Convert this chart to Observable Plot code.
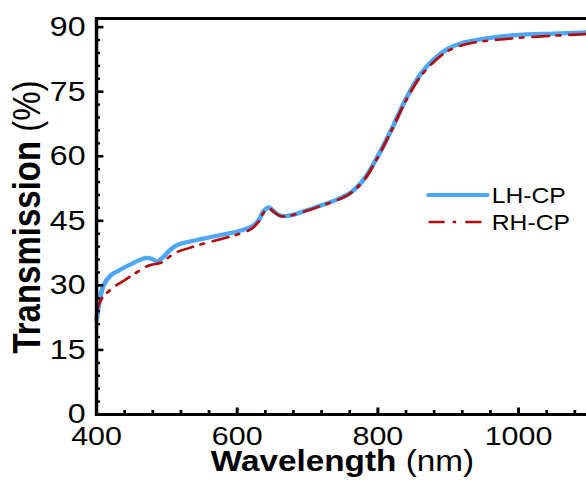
<!DOCTYPE html>
<html><head><meta charset="utf-8">
<script src="https://cdn.jsdelivr.net/npm/d3@7"></script>
<script src="https://cdn.jsdelivr.net/npm/@observablehq/plot@0.6"></script>
<style>
body{margin:0;background:#fff;}
#chart svg{display:block;}
</style>
</head><body><div id="chart"></div>
<script>
const wavelength = [400,405,410,420,430,440,450,460,470,478,486,495,505,515,530,550,580,600,620,630,638,645,652,660,670,680,700,720,740,760,780,800,820,840,860,880,900,920,940,960,980,1000,1050,1100];
const lhcp = [22,27,30,32.3,33.3,34.2,35.0,35.8,36.4,36.2,35.6,36.6,38.3,39.4,40.1,40.8,41.8,42.5,43.6,45,47.3,48.1,47.2,46.3,46.1,46.4,47.5,48.6,49.8,51.4,54.6,60,66.4,73.3,78.9,82.6,85,86.3,87,87.5,87.9,88.2,88.5,88.8];
const rhcp = [24,26.2,27.5,29.0,30.2,31.2,32.3,33.3,34.3,34.8,35.0,35.5,36.8,37.8,38.6,39.6,40.9,41.8,43.1,44.7,47.0,47.9,47.1,46.2,46.0,46.4,47.4,48.5,49.7,51.3,54.4,59.8,66.2,73,78.4,82.0,84.5,85.8,86.5,86.9,87.2,87.5,88.0,88.4];
const seriesNames = ["LH-CP", "RH-CP"];
const seriesColors = ["#4da6f7", "#b30c0c"];
const xMajorTicks = [400, 600, 800, 1000];
const xMinorTicks = [440, 480, 520, 560, 640, 680, 720, 760, 840, 880, 920, 960, 1040, 1080];
const yMajorTicks = [0, 15, 30, 45, 60, 75, 90];
const yMinorTicks = [3, 6, 9, 12, 18, 21, 24, 27, 33, 36, 39, 42, 48, 51, 54, 57, 63, 66, 69, 72, 78, 81, 84, 87];
const xDomain = [400, 1100];
const yDomain = [0, 92];

const lhRows = wavelength.map((w, i) => ({w, t: lhcp[i]}));
const rhRows = wavelength.map((w, i) => ({w, t: rhcp[i]}));

const W = 510, H = 484;
const font = "'Liberation Sans', Arial, sans-serif";
const plain = d => String(d);

const chart = Plot.plot({
  width: W, height: H,
  marginLeft: 83.5, marginRight: -2, marginTop: 18, marginBottom: 70,
  style: {fontFamily: font, color: "#000", background: "#fff", overflow: "visible"},
  x: {domain: xDomain},
  y: {domain: yDomain},
  marks: [
    Plot.line(lhRows, {x: "w", y: "t", stroke: seriesColors[0], strokeWidth: 4.2, curve: "catmull-rom"}),
    Plot.line(rhRows, {x: "w", y: "t", stroke: seriesColors[1], strokeWidth: 2.6, strokeDasharray: "14,7,3,8", curve: "catmull-rom"}),
    Plot.axisX({ticks: xMinorTicks, tickSize: -4, strokeWidth: 2.4, tickFormat: () => "", label: null}),
    Plot.axisX({ticks: xMajorTicks, tickSize: -6.5, strokeWidth: 2.6, tickFormat: () => "", label: null}),
    Plot.axisX({ticks: xMajorTicks, tickSize: 0, tickPadding: 12, fontSize: 26.5, tickFormat: plain, label: null}),
    Plot.axisY({ticks: yMinorTicks, tickSize: -3.5, strokeWidth: 2.4, tickFormat: () => "", label: null}),
    Plot.axisY({ticks: yMajorTicks, tickSize: -6.5, strokeWidth: 2.6, tickFormat: () => "", label: null}),
    Plot.axisY({ticks: yMajorTicks, tickSize: 0, tickPadding: 9.5, fontSize: 28, tickFormat: plain, label: null}),
    Plot.frame({stroke: "#000", strokeWidth: 3})
  ]
});

const svg = d3.select(chart);
// Axis titles
const xt = svg.append("text")
  .attr("x", 298).attr("y", 471)
  .attr("text-anchor", "middle")
  .attr("font-family", font).attr("font-size", 29).attr("fill", "#000");
xt.append("tspan").attr("font-weight", "bold").text("Wavelength");
xt.append("tspan").text(" (nm)");

const yt = svg.append("text")
  .attr("transform", "translate(35,217) rotate(-90)")
  .attr("text-anchor", "middle")
  .attr("font-family", font).attr("font-size", 33).attr("fill", "#000");
yt.append("tspan").attr("font-weight", "bold").text("Transmission");
yt.append("tspan").text(" (%)");

// Legend
const legend = svg.append("g").attr("font-family", font).attr("font-size", 21.5).attr("fill", "#000").attr("text-anchor", "start");
const rowsY = [195, 222];
seriesNames.forEach((name, i) => {
  legend.append("line")
    .attr("x1", 373).attr("x2", 424).attr("y1", rowsY[i]).attr("y2", rowsY[i])
    .attr("stroke", seriesColors[i])
    .attr("stroke-width", i === 0 ? 4.2 : 2.6)
    .attr("stroke-linecap", i === 0 ? "round" : "butt")
    .attr("stroke-dasharray", i === 0 ? null : "14,7,3,8");
  legend.append("text").attr("x", 428).attr("y", rowsY[i]).attr("dy", "0.36em").attr("text-anchor", "start").text(name);
});

// Horizontal stretch to match reference aspect
chart.setAttribute("viewBox", `0 0 ${W} ${H}`);
chart.setAttribute("width", 586);
chart.setAttribute("height", H);
chart.setAttribute("preserveAspectRatio", "none");
chart.style.width = "586px";
chart.style.height = H + "px";
chart.style.maxWidth = "none";

document.getElementById("chart").appendChild(chart);
</script>
</body></html>
